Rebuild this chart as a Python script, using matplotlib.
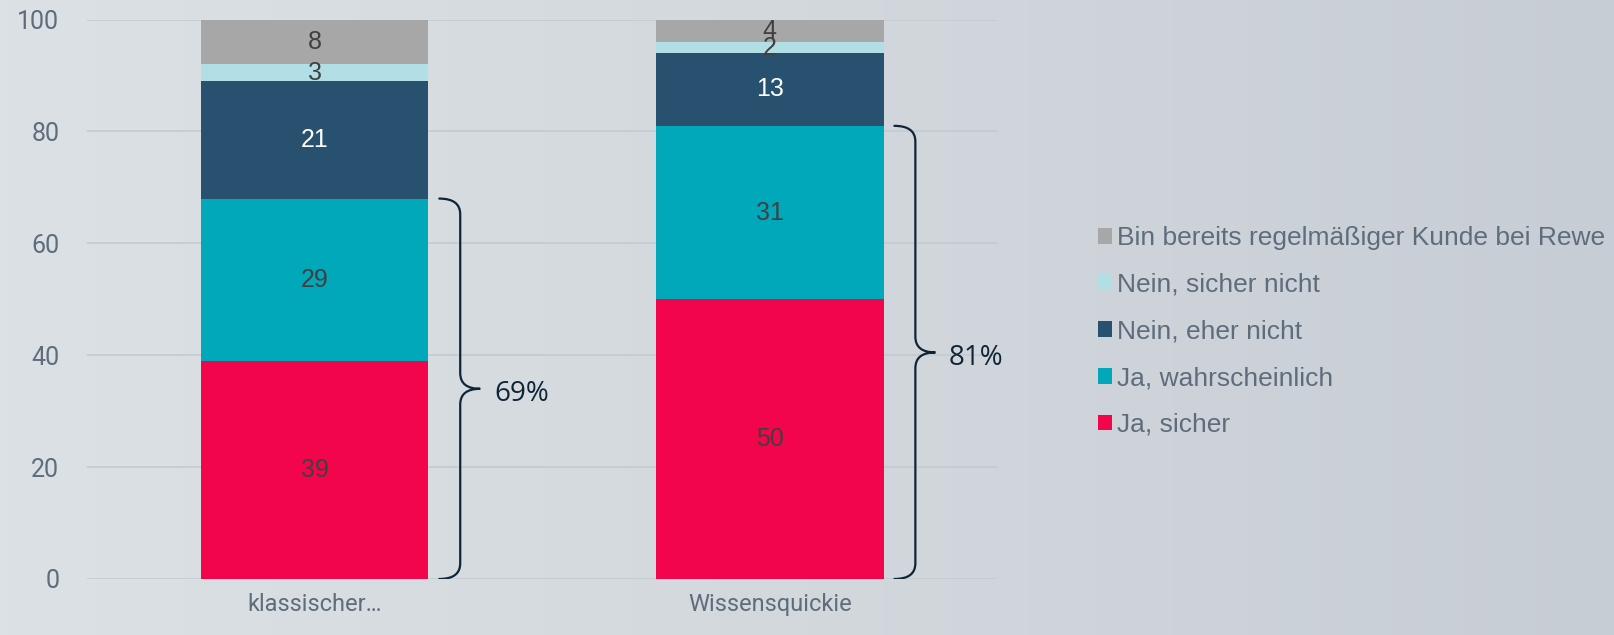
import numpy as np
import matplotlib
matplotlib.use("Agg")
import matplotlib.pyplot as plt
from matplotlib.path import Path
from matplotlib.patches import PathPatch
from matplotlib.colors import LinearSegmentedColormap


# -----------------------------
# Data
# -----------------------------
CATEGORIES = ["klassischer…", "Wissensquickie"]

SERIES = [
    "Ja, sicher",
    "Ja, wahrscheinlich",
    "Nein, eher nicht",
    "Nein, sicher nicht",
    "Bin bereits regelmäßiger Kunde bei Rewe",
]
JA_SICHER = [39, 50]
JA_WAHRSCHEINLICH = [29, 31]
NEIN_EHER_NICHT = [21, 13]
NEIN_SICHER_NICHT = [3, 2]
BEREITS_KUNDE = [8, 4]

BRACE_LABELS = ["69%", "81%"]

COLORS = ["#f2054a", "#00a8ba", "#28506f", "#b1dfe5", "#a7a7a7"]
LABEL_COLORS = ["#404040", "#404040", "#ffffff", "#404040", "#404040"]

TICK_COLOR = "#5e6d7c"
BRACE_COLOR = "#0e2538"


# -----------------------------
# Curly brace next to a bar
# -----------------------------
def draw_brace(ax, x0, y0, y1, curl=0.024, depth=0.07, tip=0.114, r=2.8):
    x1 = x0 + (depth - curl)
    x2 = x0 + (tip - curl)
    ym = (y0 + y1) / 2
    verts = [
        (x0, y0), (x1, y0), (x1, y0 + r),
        (x1, ym - r),
        (x1, ym), (x2, ym),
        (x1, ym), (x1, ym + r),
        (x1, y1 - r),
        (x1, y1), (x0, y1),
    ]
    codes = [
        Path.MOVETO, Path.CURVE3, Path.CURVE3,
        Path.LINETO,
        Path.CURVE3, Path.CURVE3,
        Path.CURVE3, Path.CURVE3,
        Path.LINETO,
        Path.CURVE3, Path.CURVE3,
    ]
    ax.add_patch(PathPatch(Path(verts, codes), fill=False,
                           edgecolor=BRACE_COLOR, linewidth=1.6,
                           capstyle="round", zorder=4))
    return x2, ym


fig = plt.figure(figsize=(16.14, 6.35), dpi=100)

# background gradient
bg = fig.add_axes([0, 0, 1, 1], zorder=-10)
grad = np.linspace(0, 1, 256).reshape(1, -1)
cmap = LinearSegmentedColormap.from_list("bg", ["#dce1e5", "#d3d8dd", "#c7cdd5"])
bg.imshow(grad, aspect="auto", cmap=cmap, extent=[0, 1, 0, 1])
bg.axis("off")

ax = fig.add_axes([0.0539, 0.0882, 0.564, 0.881])
ax.patch.set_alpha(0)

series_values = [JA_SICHER, JA_WAHRSCHEINLICH, NEIN_EHER_NICHT,
                 NEIN_SICHER_NICHT, BEREITS_KUNDE]
x = np.arange(len(CATEGORIES))
bottom = np.zeros(len(CATEGORIES))
for name, vals, color, lc in zip(SERIES, series_values, COLORS, LABEL_COLORS):
    vals = np.array(vals, dtype=float)
    bars = ax.bar(x, vals, width=0.5, bottom=bottom, color=color,
                  label=name, zorder=3)
    ax.bar_label(bars, labels=[str(int(v)) for v in vals], label_type="center",
                 color=lc, fontsize=18, family="Liberation Sans", zorder=5)
    bottom += vals

# braces for "Ja" answers
ja_total = np.array(JA_SICHER) + np.array(JA_WAHRSCHEINLICH)
for i, (tot, lab) in enumerate(zip(ja_total, BRACE_LABELS)):
    tx, ty = draw_brace(ax, x[i] + 0.25 + 0.024, 0, tot)
    ax.text(tx + 0.03, ty - 1.0, lab, fontsize=20, color=BRACE_COLOR,
            family="Open Sans", va="center", ha="left")

ax.set_xlim(-0.5, 1.5)
ax.set_ylim(0, 100)
ax.set_yticks(range(0, 101, 20))
ax.set_xticks(x)
ax.set_xticklabels(CATEGORIES)
ax.grid(axis="y", color="#c3cad1", linewidth=1.2, zorder=0)
ax.set_axisbelow(True)
for s in ax.spines.values():
    s.set_visible(False)
ax.tick_params(axis="y", length=0, pad=20, labelsize=18, labelcolor=TICK_COLOR)
ax.tick_params(axis="x", length=0, pad=10, labelsize=17, labelcolor=TICK_COLOR)
for t in ax.get_xticklabels() + ax.get_yticklabels():
    t.set_family("Roboto")

handles, labels = ax.get_legend_handles_labels()
fig.legend(handles[::-1], labels[::-1], loc="center left",
           bbox_to_anchor=(0.68, 0.478), frameon=False,
           prop={"family": "Liberation Sans", "size": 19},
           labelcolor=TICK_COLOR, handlelength=0.55, handleheight=0.55,
           handletextpad=0.2, labelspacing=0.86, borderpad=0, borderaxespad=0)

fig.savefig("out.png", dpi=100)
